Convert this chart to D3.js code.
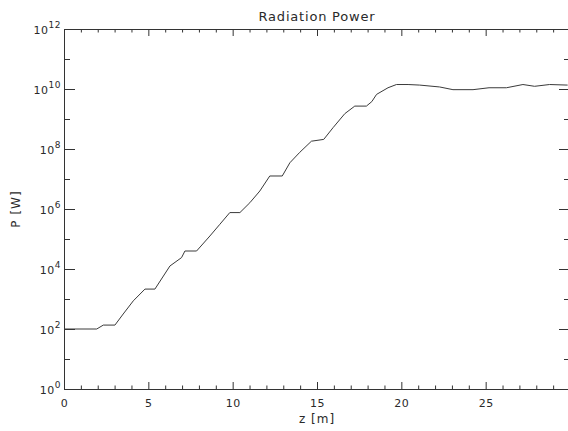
<!DOCTYPE html>
<html>
<head>
<meta charset="utf-8">
<script src="https://cdn.jsdelivr.net/npm/d3@7"></script>
<style>
  html, body { margin: 0; padding: 0; background: #ffffff; }
  svg { display: block; }
  text { font-family: "DejaVu Sans", "Liberation Sans", sans-serif; fill: #2a2a2a; }
</style>
</head>
<body>
<script>
// ---- data ----
const title = "Radiation Power";
const xLabel = "z [m]";
const yLabel = "P [W]";

const zPositions = [0, 1.94, 2.33, 3.02, 3.51, 4.11, 4.80, 5.39, 6.28, 6.97, 7.17, 7.86,
  8.65, 9.24, 9.83, 10.43, 11.02, 11.61, 12.20, 12.94, 13.39, 13.98, 14.67, 15.40,
  15.95, 16.65, 17.24, 17.93, 18.25, 18.53, 19.21, 19.71, 20.40, 21.09, 22.27, 23.06,
  24.25, 25.20, 26.23, 27.21, 27.90, 28.79, 29.86];
const powerValues = [1.0e2, 1.0e2, 1.35e2, 1.35e2, 3.16e2, 8.7e2, 2.14e3, 2.14e3, 1.26e4,
  2.4e4, 3.98e4, 3.98e4, 1.26e5, 3.09e5, 7.59e5, 7.59e5, 1.62e6, 3.98e6, 1.26e7, 1.26e7,
  3.47e7, 7.76e7, 1.82e8, 2.09e8, 5.13e8, 1.51e9, 2.69e9, 2.69e9, 3.8e9, 6.6e9, 1.1e10,
  1.41e10, 1.41e10, 1.35e10, 1.17e10, 9.5e9, 9.5e9, 1.1e10, 1.1e10, 1.41e10, 1.23e10,
  1.41e10, 1.35e10];

const xMajorTicks = [0, 5, 10, 15, 20, 25, 30];
const xMinorTicks = [1, 2, 3, 4, 6, 7, 8, 9, 11, 12, 13, 14, 16, 17, 18, 19, 21, 22, 23, 24, 26, 27, 28, 29];
const yMajorTicks = [1e0, 1e2, 1e4, 1e6, 1e8, 1e10, 1e12];
const yMinorTicks = [1e1, 1e3, 1e5, 1e7, 1e9, 1e11];

// ---- layout ----
const W = 568, H = 431;
const mLeft = 64, mRight = 570, mTop = 29, mBottom = 389;

const svg = d3.select("body").append("svg").attr("width", W).attr("height", H);

const x = d3.scaleLinear().domain([0, 30]).range([mLeft, mRight]);
const y = d3.scaleLog().domain([1, 1e12]).range([mBottom, mTop]);

const axisColor = "#333";

function styleAxis(g) {
  g.attr("font-family", null);
  g.selectAll("path, line").attr("stroke", axisColor).attr("stroke-width", 1);
}

// bottom axis
const gB = svg.append("g").attr("transform", `translate(0,${mBottom})`)
  .call(d3.axisBottom(x).tickValues(xMajorTicks).tickSize(-7).tickSizeOuter(0)
    .tickFormat(d => d === 30 ? "" : d3.format("d")(d)));
gB.selectAll("text").attr("y", 18).attr("dy", 0).attr("font-size", 11)
  .style("letter-spacing", "0.5px");
styleAxis(gB);
const gBm = svg.append("g").attr("transform", `translate(0,${mBottom})`)
  .call(d3.axisBottom(x).tickValues(xMinorTicks).tickSize(-3.5).tickSizeOuter(0).tickFormat(""));
gBm.select(".domain").remove();
styleAxis(gBm);

// top axis
const gT = svg.append("g").attr("transform", `translate(0,${mTop})`)
  .call(d3.axisTop(x).tickValues(xMajorTicks).tickSize(-7).tickSizeOuter(0).tickFormat(""));
styleAxis(gT);
const gTm = svg.append("g").attr("transform", `translate(0,${mTop})`)
  .call(d3.axisTop(x).tickValues(xMinorTicks).tickSize(-3.5).tickSizeOuter(0).tickFormat(""));
gTm.select(".domain").remove();
styleAxis(gTm);

// left axis
const gL = svg.append("g").attr("transform", `translate(${mLeft},0)`)
  .call(d3.axisLeft(y).tickValues(yMajorTicks).tickSize(-11).tickSizeOuter(0).tickPadding(3)
    .tickFormat(""));
gL.selectAll(".tick text").each(function(d) {
  const t = d3.select(this).attr("dy", 0).attr("y", 4).attr("font-size", 11)
    .style("letter-spacing", "0.5px");
  t.append("tspan").text("10");
  t.append("tspan").attr("dy", -6).attr("font-size", 9).text(String(Math.round(Math.log10(d))));
});
styleAxis(gL);
const gLm = svg.append("g").attr("transform", `translate(${mLeft},0)`)
  .call(d3.axisLeft(y).tickValues(yMinorTicks).tickSize(-6).tickSizeOuter(0).tickFormat(""));
gLm.select(".domain").remove();
styleAxis(gLm);

// right axis
const gR = svg.append("g").attr("transform", `translate(${mRight},0)`)
  .call(d3.axisRight(y).tickValues(yMajorTicks).tickSize(-11).tickSizeOuter(0).tickFormat(""));
styleAxis(gR);
const gRm = svg.append("g").attr("transform", `translate(${mRight},0)`)
  .call(d3.axisRight(y).tickValues(yMinorTicks).tickSize(-6).tickSizeOuter(0).tickFormat(""));
gRm.select(".domain").remove();
styleAxis(gRm);

// curve
const data = zPositions.map((z, i) => ({ z, p: powerValues[i] }));
svg.append("path")
  .datum(data)
  .attr("fill", "none")
  .attr("stroke", "#3a3a3a")
  .attr("stroke-width", 1)
  .attr("d", d3.line().x(d => x(d.z)).y(d => y(d.p)));

// title and labels
svg.append("text")
  .attr("x", (mLeft + mRight) / 2).attr("y", 21)
  .attr("text-anchor", "middle").attr("font-size", 13)
  .style("letter-spacing", "0.8px")
  .text(title);

svg.append("text")
  .attr("x", 317).attr("y", 423)
  .attr("text-anchor", "middle").attr("font-size", 12)
  .style("letter-spacing", "1px")
  .text(xLabel);

svg.append("text")
  .attr("transform", `translate(20,${(mTop + mBottom) / 2}) rotate(-90)`)
  .attr("text-anchor", "middle").attr("font-size", 12)
  .style("letter-spacing", "1px")
  .text(yLabel);
</script>
</body>
</html>
